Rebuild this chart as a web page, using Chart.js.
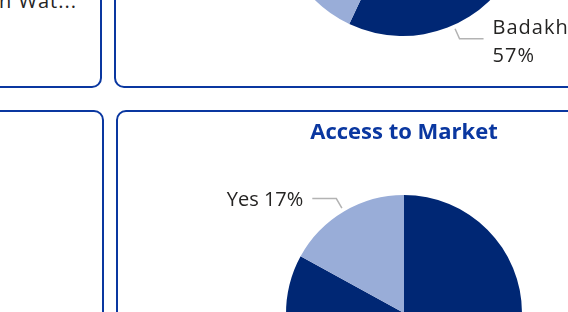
<!DOCTYPE html>
<html>
<head>
<meta charset="utf-8">
<title>Dashboard pies</title>
<script src="https://cdn.jsdelivr.net/npm/chart.js@4.4.1/dist/chart.umd.min.js"></script>
<style>
    html, body { margin: 0; padding: 0; width: 568px; height: 312px; overflow: hidden; background: #fff; font-family: 'Open Sans', sans-serif; }
    .panel { position: absolute; box-sizing: border-box; border: 2px solid #0a37a0; border-radius: 10px; background: #fff; }
    #panelTL { left: -20px; top: -20px; width: 122px; height: 108px; }
    #panelTR { left: 114px; top: -20px; width: 600px; height: 108px; }
    #panelBL { left: -20px; top: 110px; width: 124px; height: 300px; }
    #panelBR { left: 116px; top: 110px; width: 600px; height: 300px; }
    .cut-label { position: absolute; right: 491px; top: -9px; font-size: 20px; line-height: 20px; letter-spacing: 1px; color: #252423; white-space: nowrap; }
    canvas { position: absolute; left: 0; }
    #regionChart { top: -260px; }
    #marketChart { top: 0; }
</style>
</head>
<body>
<div class="panel" id="panelTL"></div>
<div class="panel" id="panelTR"></div>
<div class="panel" id="panelBL"></div>
<div class="panel" id="panelBR"></div>
<div class="cut-label">Access to Clean Wat...</div>
<canvas id="regionChart" width="568" height="572"></canvas>
<canvas id="marketChart" width="568" height="500"></canvas>
<script>
// data
const regionLabels = ['Badakhshan', 'Takhar'];
const regionShares = [57, 43];
const marketLabels = ['No', 'Yes'];
const marketShares = [83, 17];
const sliceColors = ['#002774', '#99add8'];

// Power BI style outside labels with a bent leader line
const pieLabels = {
    id: 'pieLabels',
    afterDatasetsDraw(chart, args, opts) {
        const ctx = chart.ctx;
        const meta = chart.getDatasetMeta(0);
        const data = chart.data.datasets[0].data;
        const total = data.reduce((a, b) => a + b, 0);
        ctx.save();
        ctx.font = '20px "Open Sans"';
        if ('letterSpacing' in ctx) ctx.letterSpacing = opts.spacing || '0px';
        ctx.fillStyle = '#252423';
        ctx.strokeStyle = '#b3b3b3';
        ctx.lineWidth = 1.5;
        meta.data.forEach((arc, i) => {
            const { x, y, startAngle, endAngle, outerRadius } = arc.getProps(['x', 'y', 'startAngle', 'endAngle', 'outerRadius'], true);
            const f = (opts.anchor && opts.anchor[i] != null) ? opts.anchor[i] : 0.5;
            const a = startAngle + (endAngle - startAngle) * f;
            const cos = Math.cos(a), sin = Math.sin(a);
            const x1 = x + cos * (outerRadius + 4), y1 = y + sin * (outerRadius + 4);
            const x2 = x + cos * (outerRadius + 15), y2 = y + sin * (outerRadius + 15);
            const side = cos >= 0 ? 1 : -1;
            const x3 = x2 + side * 24;
            ctx.beginPath();
            ctx.moveTo(x1, y1);
            ctx.lineTo(x2, y2);
            ctx.lineTo(x3, y2);
            ctx.stroke();
            const pct = Math.round(data[i] / total * 100) + '%';
            const name = chart.data.labels[i];
            const lines = opts.wrap ? [name, pct] : [name + ' ' + pct];
            ctx.textAlign = side > 0 ? 'left' : 'right';
            ctx.textBaseline = 'alphabetic';
            lines.forEach((t, j) => {
                const yy = y2 + 7 + (j - (lines.length - 1) / 2) * 28 + (lines.length - 1) * 2;
                ctx.fillText(t, x3 + side * 9, yy);
            });
        });
        ctx.restore();
    }
};

function createPie(canvasId, labels, values, options) {
    const ctx = document.getElementById(canvasId);
    return new Chart(ctx.getContext('2d'), {
        type: 'pie',
        data: {
            labels,
            datasets: [{ data: values, backgroundColor: sliceColors, borderWidth: 0, hoverOffset: 0 }]
        },
        options: Object.assign({
            responsive: false,
            animation: false,
            events: [],
        }, options),
        plugins: [pieLabels]
    });
}

function drawAll() {
    createPie('regionChart', regionLabels, regionShares, {
        radius: 125,
        layout: { padding: { left: 262.5, right: 25.5, top: 31, bottom: 261 } },
        plugins: {
            legend: { display: false },
            tooltip: { enabled: false },
            pieLabels: { wrap: true, anchor: [0.76, 0.5], spacing: '1px' }
        }
    });

    createPie('marketChart', marketLabels, marketShares, {
        radius: 118,
        layout: { padding: { left: 254, right: 14, top: 110, bottom: 27.2 } },
        plugins: {
            legend: { display: false },
            tooltip: { enabled: false },
            title: {
                display: true,
                text: 'Access to Market',
                color: '#0a37a0',
                font: { family: "'Open Sans'", size: 22, weight: 'bold', lineHeight: 1.2 },
                padding: { top: 10, bottom: 7 }
            },
            pieLabels: { wrap: false }
        }
    });
}

document.fonts.load('20px "Open Sans"').then(drawAll, drawAll);
</script>
</body>
</html>
